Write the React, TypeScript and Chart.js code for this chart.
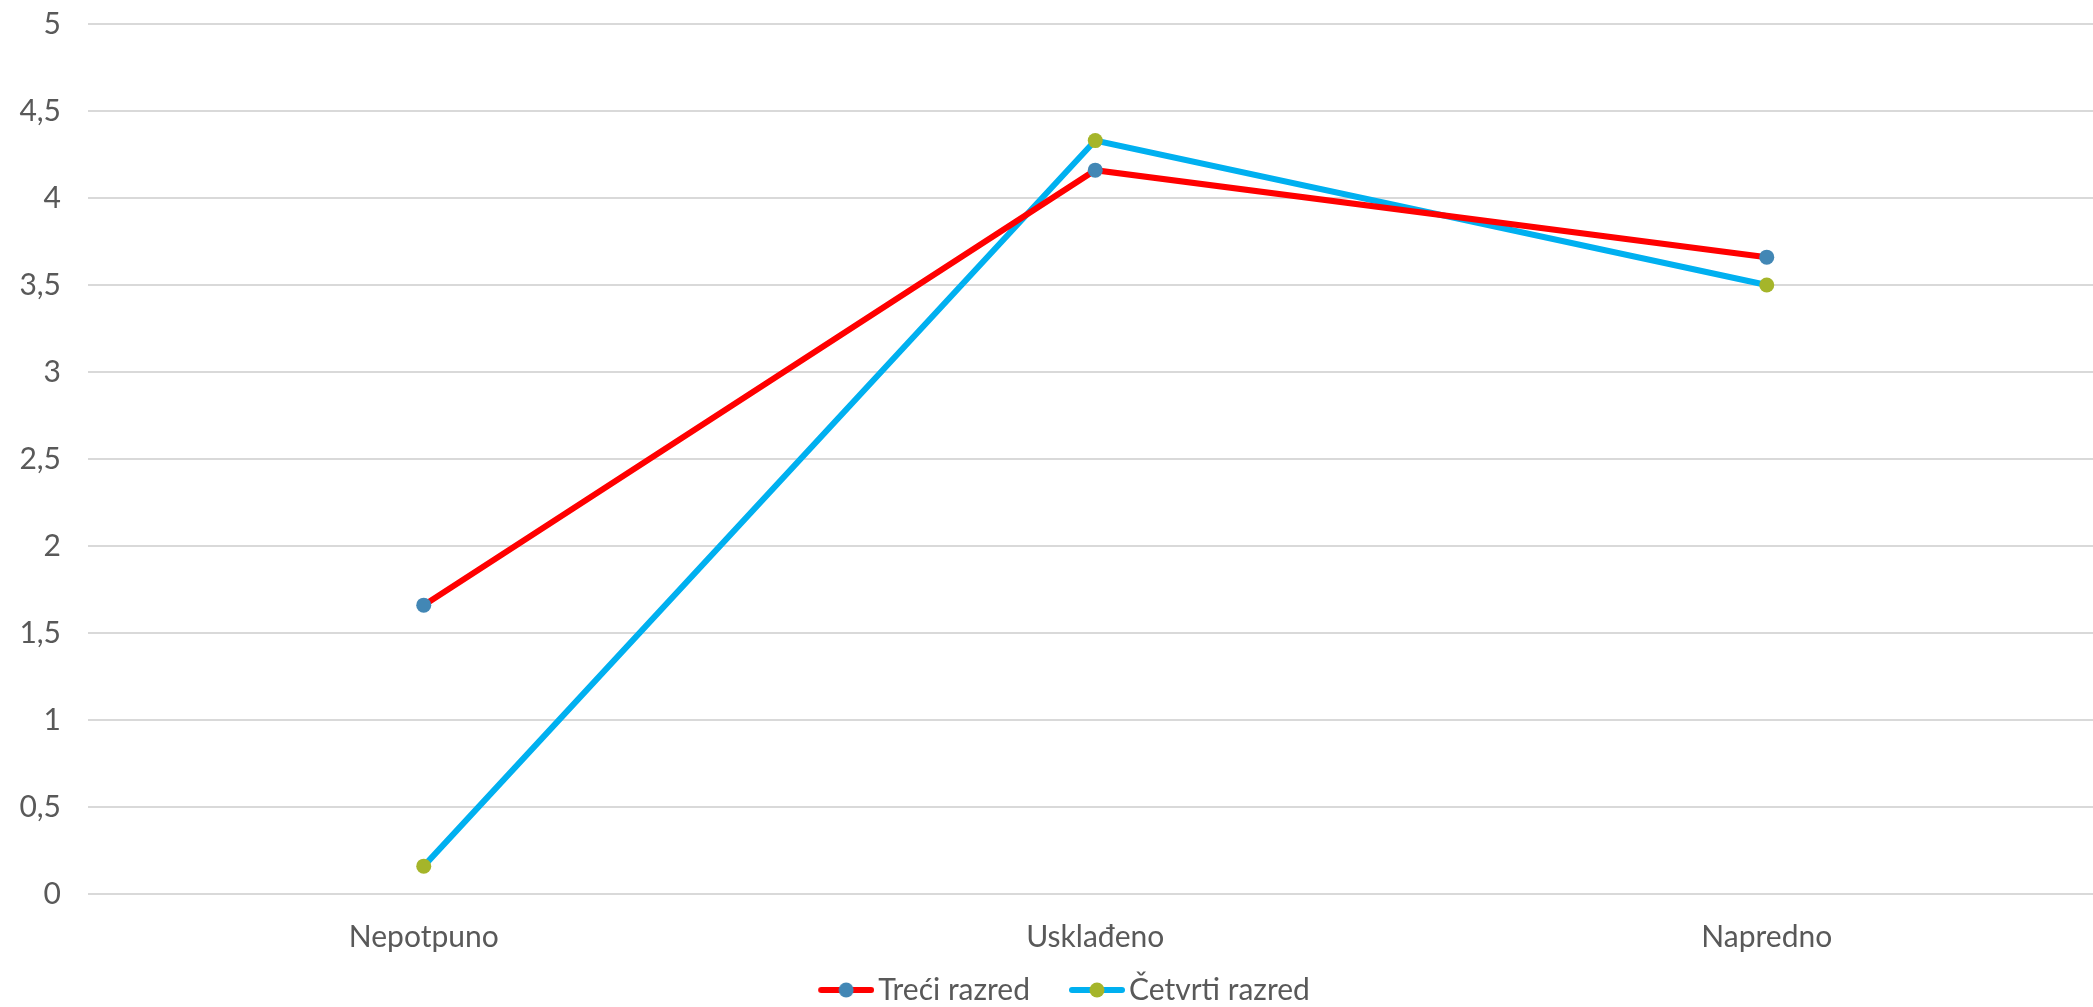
import { useEffect, useRef } from "react";
import { Chart, registerables } from "chart.js";

Chart.register(...registerables);

const categories = ["Nepotpuno", "Usklađeno", "Napredno"];
const treciRazred = [1.66, 4.16, 3.66];
const cetvrtiRazred = [0.16, 4.33, 3.5];
const seriesNames = ["Treći razred", "Četvrti razred"];

const TEXT = "#595959";
const FONT = "Lato, 'Noto Sans', sans-serif";
const FONT_SIZE = 30;

// line + dot marker for the legend, drawn on the right part of a wider
// canvas so the gap before the text stays small
function legendMarker(line: string, dot: string) {
  const c = document.createElement("canvas");
  c.width = 85;
  c.height = 16;
  const g = c.getContext("2d");
  if (g) {
    g.strokeStyle = line;
    g.lineWidth = 6;
    g.lineCap = "round";
    g.beginPath();
    g.moveTo(32, 8);
    g.lineTo(82, 8);
    g.stroke();
    g.fillStyle = dot;
    g.beginPath();
    g.arc(57, 8, 7.5, 0, Math.PI * 2);
    g.fill();
  }
  return c;
}

export default function App() {
  const ref = useRef<HTMLCanvasElement>(null);

  useEffect(() => {
    document.body.style.margin = "0";
    const canvas = ref.current;
    if (!canvas) return;

    const markers = [
      legendMarker("#FF0000", "#4287B5"),
      legendMarker("#00B0F0", "#A5B52A"),
    ];

    const chart = new Chart(canvas, {
      type: "line",
      data: {
        labels: categories,
        datasets: [
          {
            label: seriesNames[0],
            data: treciRazred,
            borderColor: "#FF0000",
            backgroundColor: "#4287B5",
            pointBackgroundColor: "#4287B5",
            pointBorderColor: "#4287B5",
            borderWidth: 6,
            pointRadius: 7.5,
            pointBorderWidth: 0,
            tension: 0,
          },
          {
            label: seriesNames[1],
            data: cetvrtiRazred,
            borderColor: "#00B0F0",
            backgroundColor: "#A5B52A",
            pointBackgroundColor: "#A5B52A",
            pointBorderColor: "#A5B52A",
            borderWidth: 6,
            pointRadius: 7.5,
            pointBorderWidth: 0,
            tension: 0,
          },
        ],
      },
      options: {
        animation: false,
        responsive: true,
        maintainAspectRatio: false,
        layout: { padding: { top: 24, left: 0, right: 0, bottom: 0 } },
        plugins: {
          tooltip: { enabled: false },
          legend: {
            position: "bottom",
            labels: {
              color: TEXT,
              font: { family: FONT, size: FONT_SIZE },
              usePointStyle: true,
              pointStyleWidth: 63,
              padding: 21,
              generateLabels: (ch) =>
                ch.data.datasets.map((ds, i) => ({
                  text: ds.label as string,
                  datasetIndex: i,
                  pointStyle: markers[i],
                  fontColor: TEXT,
                  hidden: false,
                  lineWidth: 0,
                })),
            },
          },
        },
        scales: {
          x: {
            offset: true,
            grid: { display: false },
            border: { display: false },
            ticks: {
              color: TEXT,
              font: { family: FONT, size: FONT_SIZE },
              padding: 17,
              maxRotation: 0,
            },
            afterFit: (scale) => {
              scale.height = 60;
            },
          },
          y: {
            min: 0,
            max: 5,
            grid: {
              color: "#D9D9D9",
              lineWidth: 2,
              drawTicks: true,
              tickLength: 27,
              tickColor: "rgba(0,0,0,0)",
            },
            border: { display: false },
            ticks: {
              stepSize: 0.5,
              color: TEXT,
              font: { family: FONT, size: FONT_SIZE },
              padding: 0,
              callback: (v) => String(v).replace(".", ","),
            },
            afterFit: (scale) => {
              scale.width = 88;
            },
          },
        },
      },
    });
    return () => chart.destroy();
  }, []);

  return (
    <div style={{ width: 2093, height: 1007, overflow: "hidden" }}>
      <div style={{ position: "relative", width: 2110, height: 1015 }}>
        <canvas ref={ref} />
      </div>
    </div>
  );
}
